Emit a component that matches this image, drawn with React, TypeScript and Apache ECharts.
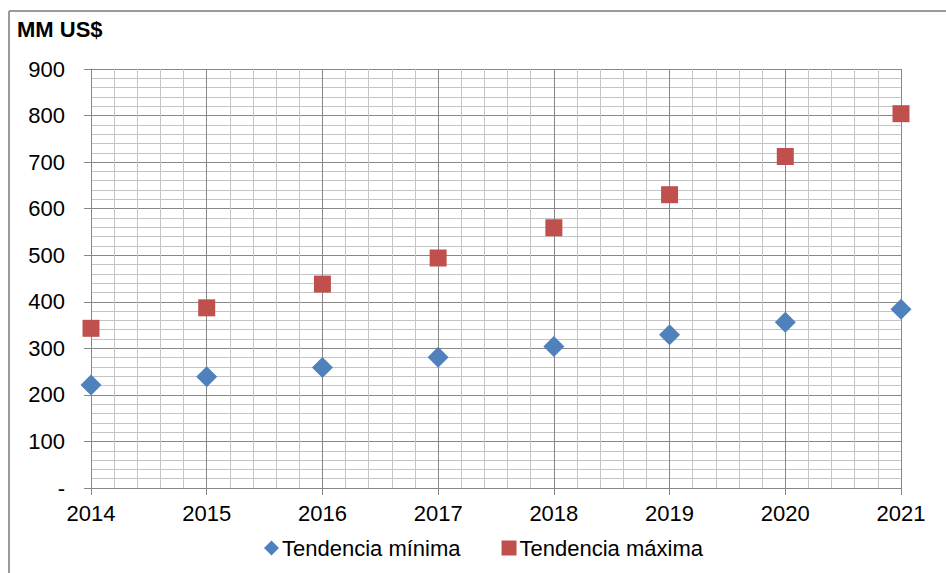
import React, { useEffect, useRef } from "react";
import * as echarts from "echarts";

// Yearly projection, millions of US dollars
const years = [2014, 2015, 2016, 2017, 2018, 2019, 2020, 2021];
const tendenciaMinima = [221, 239, 259, 281, 304, 329, 356, 384];
const tendenciaMaxima = [343, 387, 438, 494, 559, 630, 712, 804];
const seriesNames = ["Tendencia mínima", "Tendencia máxima"];
const unitLabel = "MM US$";

const FONT = "'Liberation Sans', Arial, sans-serif";
const MAJOR = "#878787";
const MINOR = "#c4c4c4";

export default function App() {
  const ref = useRef<HTMLDivElement>(null);

  useEffect(() => {
    if (!ref.current) return;
    const chart = echarts.init(ref.current, null, { renderer: "svg" });
    const pairs = (vals: number[]) => years.map((y, i) => [y, vals[i]]);

    chart.setOption({
      animation: false,
      backgroundColor: "#ffffff",
      textStyle: { fontFamily: FONT },
      title: {
        text: unitLabel,
        left: 12,
        top: 13,
        textStyle: { fontFamily: FONT, fontSize: 22, fontWeight: "bold", color: "#000" },
      },
      graphic: [
        {
          type: "line",
          shape: { x1: 9, y1: 11, x2: 946, y2: 11 },
          style: { stroke: "#9a9a9a", lineWidth: 2 },
          silent: true,
        },
        {
          type: "line",
          shape: { x1: 9, y1: 11, x2: 9, y2: 573 },
          style: { stroke: "#9a9a9a", lineWidth: 2 },
          silent: true,
        },
      ],
      legend: {
        left: 259,
        top: 532,
        itemWidth: 15,
        itemHeight: 15,
        itemGap: 41,
        textStyle: { fontFamily: FONT, fontSize: 22, color: "#000", padding: [0, 0, 0, -2] },
        data: [
          { name: seriesNames[0], icon: "diamond" },
          { name: seriesNames[1], icon: "rect" },
        ],
      },
      grid: { left: 91, top: 69, right: 45, bottom: 85 },
      xAxis: {
        type: "value",
        min: 2014,
        max: 2021,
        interval: 1,
        axisLine: { show: true, lineStyle: { color: MAJOR, width: 1 } },
        axisTick: { show: true, length: 7, lineStyle: { color: MAJOR } },
        axisLabel: {
          color: "#000",
          fontSize: 22,
          fontFamily: FONT,
          margin: 14,
          formatter: (v: number) => String(v),
        },
        splitLine: { show: true, lineStyle: { color: MAJOR, width: 1 } },
        minorTick: { show: false, splitNumber: 5 },
        minorSplitLine: { show: true, lineStyle: { color: MINOR, width: 1 } },
      },
      yAxis: {
        type: "value",
        min: 0,
        max: 900,
        interval: 100,
        axisLine: { show: true, lineStyle: { color: MAJOR, width: 1 } },
        axisTick: { show: true, length: 7, lineStyle: { color: MAJOR } },
        axisLabel: {
          color: "#000",
          fontSize: 22,
          fontFamily: FONT,
          margin: 26,
          formatter: (v: number) => (v === 0 ? "-" : String(v)),
        },
        splitLine: { show: true, lineStyle: { color: MAJOR, width: 1 } },
        minorTick: { show: false, splitNumber: 5 },
        minorSplitLine: { show: true, lineStyle: { color: MINOR, width: 1 } },
      },
      series: [
        {
          name: seriesNames[0],
          type: "scatter",
          symbol: "diamond",
          symbolSize: 21,
          itemStyle: { color: "#4F81BD", opacity: 1 },
          data: pairs(tendenciaMinima),
        },
        {
          name: seriesNames[1],
          type: "scatter",
          symbol: "rect",
          symbolSize: 17,
          itemStyle: { color: "#C0504D", opacity: 1 },
          data: pairs(tendenciaMaxima),
        },
      ],
    });

    return () => chart.dispose();
  }, []);

  return (
    <div
      ref={ref}
      style={{ position: "fixed", left: 0, top: 0, width: 946, height: 573 }}
    />
  );
}
